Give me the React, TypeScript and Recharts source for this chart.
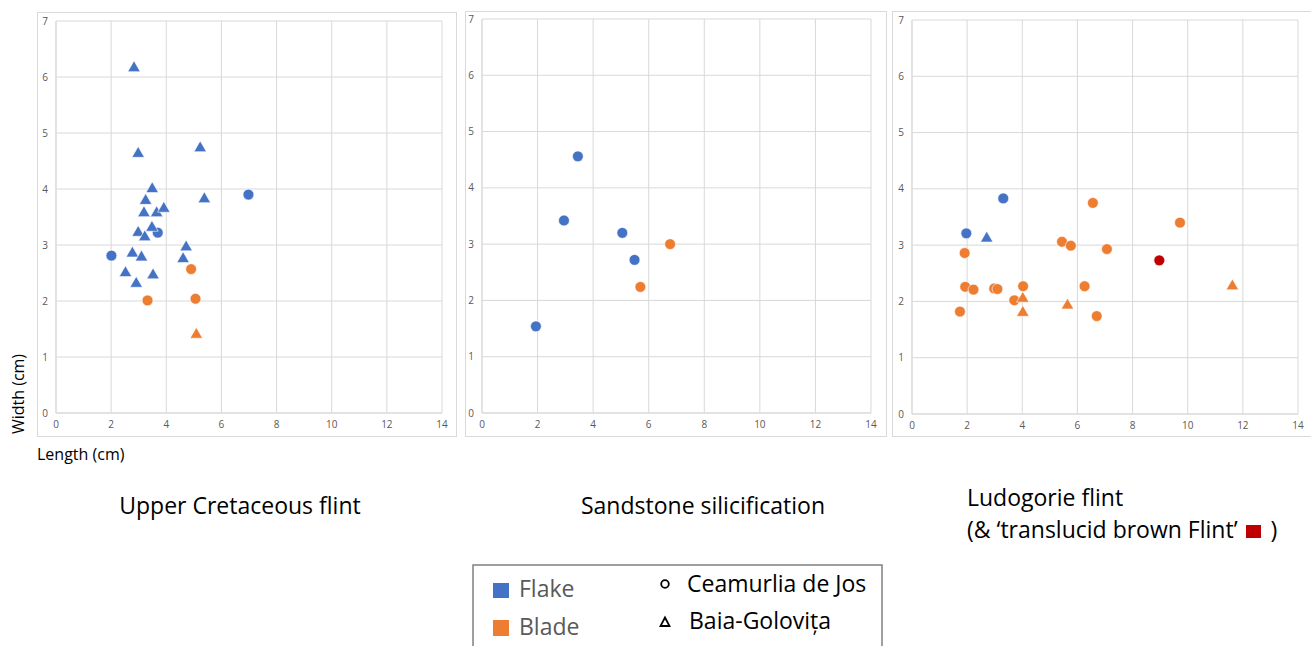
import React from 'react';
import { ScatterChart, Scatter, XAxis, YAxis, CartesianGrid } from 'recharts';

const xTicks = [0, 2, 4, 6, 8, 10, 12, 14];
const yTicks = [0, 1, 2, 3, 4, 5, 6, 7];

const BLUE = '#4472C4';
const ORANGE = '#ED7D31';
const RED = '#C00000';

// Upper Cretaceous flint
const ucFlakeCeamurlia = [
  { x: 2.01, y: 2.81 },
  { x: 3.69, y: 3.22 },
  { x: 6.98, y: 3.9 },
];
const ucFlakeBaia = [
  { x: 2.83, y: 6.16 },
  { x: 2.98, y: 4.63 },
  { x: 5.23, y: 4.73 },
  { x: 3.49, y: 4.0 },
  { x: 5.38, y: 3.82 },
  { x: 3.25, y: 3.79 },
  { x: 3.19, y: 3.57 },
  { x: 3.65, y: 3.57 },
  { x: 3.91, y: 3.65 },
  { x: 3.48, y: 3.31 },
  { x: 2.98, y: 3.22 },
  { x: 3.22, y: 3.14 },
  { x: 2.77, y: 2.85 },
  { x: 3.1, y: 2.78 },
  { x: 4.72, y: 2.96 },
  { x: 4.61, y: 2.75 },
  { x: 2.52, y: 2.5 },
  { x: 3.52, y: 2.46 },
  { x: 2.91, y: 2.31 },
];
const ucBladeCeamurlia = [
  { x: 4.9, y: 2.57 },
  { x: 3.32, y: 2.01 },
  { x: 5.06, y: 2.04 },
];
const ucBladeBaia = [{ x: 5.09, y: 1.4 }];

// Sandstone silicification
const ssFlakeCeamurlia = [
  { x: 3.45, y: 4.56 },
  { x: 2.95, y: 3.42 },
  { x: 5.05, y: 3.2 },
  { x: 5.49, y: 2.72 },
  { x: 1.94, y: 1.54 },
];
const ssBladeCeamurlia = [
  { x: 6.77, y: 3.0 },
  { x: 5.7, y: 2.24 },
];

// Ludogorie flint
const ldFlakeCeamurlia = [
  { x: 3.31, y: 3.83 },
  { x: 1.97, y: 3.21 },
];
const ldFlakeBaia = [{ x: 2.71, y: 3.12 }];
const ldBladeCeamurlia = [
  { x: 6.56, y: 3.75 },
  { x: 9.72, y: 3.4 },
  { x: 5.44, y: 3.06 },
  { x: 5.76, y: 2.99 },
  { x: 7.07, y: 2.93 },
  { x: 1.91, y: 2.86 },
  { x: 1.93, y: 2.26 },
  { x: 2.23, y: 2.21 },
  { x: 2.98, y: 2.23 },
  { x: 3.1, y: 2.22 },
  { x: 4.03, y: 2.27 },
  { x: 6.26, y: 2.27 },
  { x: 3.71, y: 2.02 },
  { x: 1.74, y: 1.82 },
  { x: 6.7, y: 1.74 },
];
const ldBladeBaia = [
  { x: 4.02, y: 2.05 },
  { x: 4.02, y: 1.8 },
  { x: 5.64, y: 1.93 },
  { x: 11.62, y: 2.27 },
];
const ldTranslucidBrown = [{ x: 8.97, y: 2.73 }];

const circleShape = (fill: string) => (p: any) => (
  <circle cx={p.cx} cy={p.cy} r={5.4} fill={fill} stroke="#ffffff" strokeWidth={0.6} />
);
const triangleShape = (fill: string) => (p: any) => {
  const s = 12.5;
  const h = (s * Math.sqrt(3)) / 2;
  const { cx, cy } = p;
  return (
    <polygon
      points={`${cx},${cy - (2 * h) / 3} ${cx - s / 2},${cy + h / 3} ${cx + s / 2},${cy + h / 3}`}
      fill={fill}
      stroke="#ffffff"
      strokeWidth={0.6}
    />
  );
};

type SeriesDef = { data: { x: number; y: number }[]; color: string; marker: 'circle' | 'triangle' };

function Panel(props: {
  left: number;
  top: number;
  width: number;
  height: number;
  margin: { top: number; right: number; left: number; bottom: number };
  yAxisWidth: number;
  xAxisHeight: number;
  borderWidth: number;
  series: SeriesDef[];
}) {
  const { left, top, width, height, margin, yAxisWidth, xAxisHeight, borderWidth, series } = props;
  return (
    <>
      <div
        style={{
          position: 'absolute',
          left,
          top,
          width: borderWidth,
          height,
          border: '1px solid #D9D9D9',
          boxSizing: 'border-box',
        }}
      />
      <div style={{ position: 'absolute', left, top }}>
        <ScatterChart width={width} height={height} margin={margin}>
          <CartesianGrid stroke="#D9D9D9" />
          <XAxis
            type="number"
            dataKey="x"
            domain={[0, 14]}
            ticks={xTicks}
            interval={0}
            height={xAxisHeight}
            tickLine={false}
            axisLine={{ stroke: '#D9D9D9' }}
            tick={{ fill: '#595959', fontSize: 10 }}
          />
          <YAxis
            type="number"
            dataKey="y"
            domain={[0, 7]}
            ticks={yTicks}
            interval={0}
            width={yAxisWidth}
            tickLine={false}
            axisLine={{ stroke: '#D9D9D9' }}
            tick={{ fill: '#595959', fontSize: 10 }}
          />
          {series.map((s, i) => (
            <Scatter
              key={i}
              data={s.data}
              fill={s.color}
              isAnimationActive={false}
              shape={s.marker === 'circle' ? circleShape(s.color) : triangleShape(s.color)}
            />
          ))}
        </ScatterChart>
      </div>
    </>
  );
}

export default function App() {
  const font = '"Open Sans", "Noto Sans", sans-serif';
  return (
    <div
      style={{
        position: 'absolute',
        left: 0,
        top: 0,
        width: 1311,
        height: 646,
        overflow: 'hidden',
        background: '#ffffff',
        fontFamily: font,
      }}
    >
      <Panel
        left={37}
        top={12}
        width={420}
        height={425}
        borderWidth={420}
        margin={{ top: 9, right: 15, left: 0, bottom: 0 }}
        yAxisWidth={19}
        xAxisHeight={24}
        series={[
          { data: ucFlakeCeamurlia, color: BLUE, marker: 'circle' },
          { data: ucFlakeBaia, color: BLUE, marker: 'triangle' },
          { data: ucBladeCeamurlia, color: ORANGE, marker: 'circle' },
          { data: ucBladeBaia, color: ORANGE, marker: 'triangle' },
        ]}
      />
      <Panel
        left={465}
        top={11}
        width={422}
        height={426}
        borderWidth={422}
        margin={{ top: 8, right: 16, left: 0, bottom: 0 }}
        yAxisWidth={17}
        xAxisHeight={24}
        series={[
          { data: ssFlakeCeamurlia, color: BLUE, marker: 'circle' },
          { data: ssBladeCeamurlia, color: ORANGE, marker: 'circle' },
        ]}
      />
      <Panel
        left={892}
        top={11}
        width={419}
        height={426}
        borderWidth={440}
        margin={{ top: 9, right: 13, left: 0, bottom: 0 }}
        yAxisWidth={20}
        xAxisHeight={23}
        series={[
          { data: ldFlakeCeamurlia, color: BLUE, marker: 'circle' },
          { data: ldFlakeBaia, color: BLUE, marker: 'triangle' },
          { data: ldBladeCeamurlia, color: ORANGE, marker: 'circle' },
          { data: ldBladeBaia, color: ORANGE, marker: 'triangle' },
          { data: ldTranslucidBrown, color: RED, marker: 'circle' },
        ]}
      />

      <svg
        width={1311}
        height={646}
        style={{ position: 'absolute', left: 0, top: 0, pointerEvents: 'none', fontFamily: font }}
      >
        <text x={0} y={0} transform="translate(24,394) rotate(-90)" textAnchor="middle" fontSize={16} fill="#000">
          Width (cm)
        </text>
        <text x={37} y={460} fontSize={16} fill="#000">
          Length (cm)
        </text>
        <text x={240} y={514} textAnchor="middle" fontSize={23} fill="#000">
          Upper Cretaceous flint
        </text>
        <text x={703} y={514} textAnchor="middle" fontSize={23} fill="#000">
          Sandstone silicification
        </text>
        <text x={967} y={506} fontSize={23} fill="#000">
          Ludogorie flint
        </text>

        <rect x={473} y={565} width={409} height={100} fill="none" stroke="#808080" strokeWidth={1.5} />
        <rect x={493} y={583} width={16} height={15} fill={BLUE} />
        <text x={519} y={597} fontSize={23} fill="#595959">
          Flake
        </text>
        <rect x={493} y={620} width={16} height={16} fill={ORANGE} />
        <text x={519} y={635} fontSize={23} fill="#595959">
          Blade
        </text>
        <circle cx={665} cy={584} r={3.8} fill="none" stroke="#000" strokeWidth={1.8} />
        <text x={687} y={592} fontSize={23} fill="#000">
          Ceamurlia de Jos
        </text>
        <polygon points="665,617.5 660.5,626 669.5,626" fill="none" stroke="#000" strokeWidth={1.8} />
        <text x={689} y={629} fontSize={23} fill="#000">
          Baia-Golovița
        </text>
      </svg>
      <div
        style={{
          position: 'absolute',
          left: 967,
          top: 518,
          fontSize: 23,
          lineHeight: '23px',
          whiteSpace: 'nowrap',
          color: '#000',
        }}
      >
        (&amp; ‘translucid brown Flint’{' '}
        <span
          style={{
            display: 'inline-block',
            width: 15,
            height: 13,
            background: RED,
            verticalAlign: 'baseline',
            margin: '0 10px 0 2px',
          }}
        />
        )
      </div>
    </div>
  );
}
